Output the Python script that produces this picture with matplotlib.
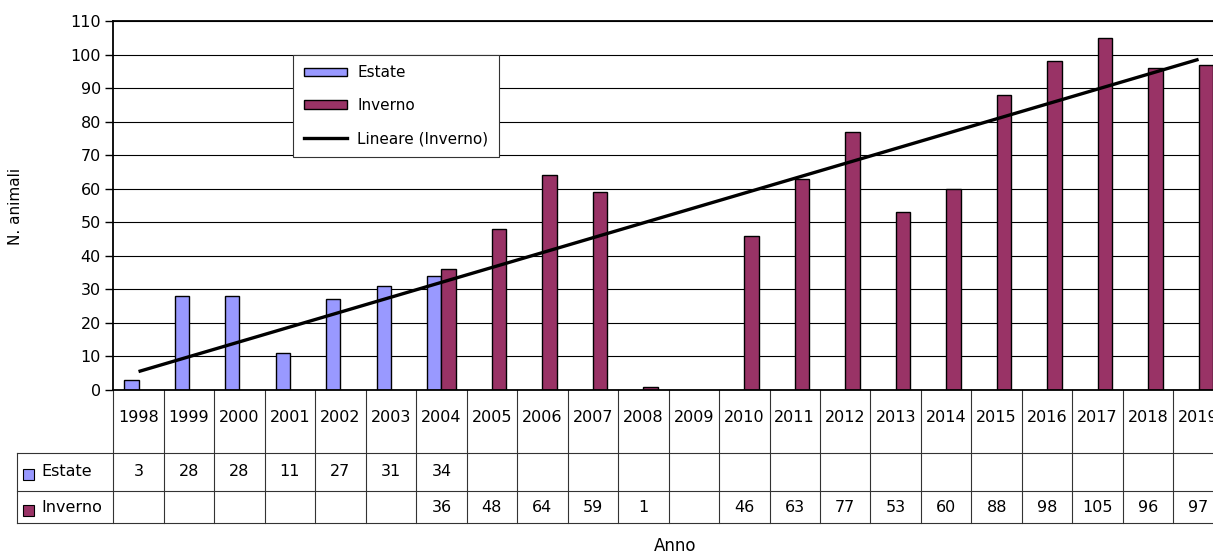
import numpy as np
import matplotlib
matplotlib.use("Agg")
import matplotlib.pyplot as plt
from matplotlib import transforms
from matplotlib.patches import Patch, Rectangle
from matplotlib.lines import Line2D

# data
anni = ['1998', '1999', '2000', '2001', '2002', '2003', '2004', '2005', '2006', '2007', '2008',
        '2009', '2010', '2011', '2012', '2013', '2014', '2015', '2016', '2017', '2018', '2019']
estate = [3, 28, 28, 11, 27, 31, 34, None, None, None, None,
          None, None, None, None, None, None, None, None, None, None, None]
inverno = [None, None, None, None, None, None, 36, 48, 64, 59, 1,
           None, 46, 63, 77, 53, 60, 88, 98, 105, 96, 97]

c_est = '#9999FF'
c_inv = '#993366'

W, H = 1213, 555
fig = plt.figure(figsize=(W / 100, H / 100), dpi=100)
plt.rcParams['font.family'] = 'DejaVu Sans'

# plot area (runs past the right edge, like the cropped original)
x0, x1 = 113.3, 1223.8
y_top, y_bot = 21, 390
ax = fig.add_axes([x0 / W, (H - y_bot) / H, (x1 - x0) / W, (y_bot - y_top) / H])

n = len(anni)
x = np.arange(n)
bw = 1 / 3.5

xe = [i for i in x if estate[i] is not None]
ye = [estate[i] for i in xe]
xi = [i for i in x if inverno[i] is not None]
yi = [inverno[i] for i in xi]

ax.bar(np.array(xe) - bw / 2, ye, width=bw, color=c_est, edgecolor='black', linewidth=1.0, zorder=2)
ax.bar(np.array(xi) + bw / 2, yi, width=bw, color=c_inv, edgecolor='black', linewidth=1.0, zorder=2)

# linear trend on Inverno (Excel style: over category index)
fit = np.polyfit(xi, yi, 1)
ax.plot([0, n - 1], np.polyval(fit, [0, n - 1]), color='black', lw=2.4, zorder=3,
        solid_capstyle='butt')

ax.set_xlim(-0.5, n - 0.5)
ax.set_ylim(0, 110)
ax.set_yticks(range(0, 111, 10))
ax.set_xticks([])
ax.yaxis.grid(True, color='black', lw=0.8)
ax.set_axisbelow(True)
ax.tick_params(axis='y', length=6, width=1, pad=3, labelsize=11.5)
for s in ['left', 'bottom', 'top']:
    ax.spines[s].set_color('black')
    ax.spines[s].set_linewidth(1.3)
ax.spines['right'].set_visible(False)

# legend
handles = [Patch(facecolor=c_est, edgecolor='black', lw=1.0),
           Patch(facecolor=c_inv, edgecolor='black', lw=1.0),
           Line2D([], [], color='black', lw=2.4)]
labels = ['Estate', 'Inverno', 'Lineare (Inverno)']
leg = ax.legend(handles, labels, loc='upper left', bbox_to_anchor=(293.3 / W, 1 - 54.7 / H),
                bbox_transform=fig.transFigure, borderaxespad=0, fancybox=False,
                framealpha=1, edgecolor='#333333', fontsize=11, handlelength=2.8,
                handleheight=0.5, handletextpad=0.7, labelspacing=1.17, borderpad=0.7)
leg.get_frame().set_linewidth(0.8)
leg.set_zorder(5)

# data table under the chart (pixel y measured from top)
pix = transforms.Affine2D().scale(1 / W, -1 / H).translate(0, 1) + fig.transFigure
blend = transforms.blended_transform_factory(ax.transData, pix)
r_cat, r_est, r_inv = 453, 491, 523
tab_left = 17.3
lc = '#333333'

for b in np.arange(n + 1) - 0.5:
    ax.add_line(Line2D([b, b], [y_bot, r_inv], transform=blend, color=lc, lw=0.8, clip_on=False))
for yy in [r_cat, r_est, r_inv]:
    fig.add_artist(Line2D([tab_left, W + 20], [yy, yy], transform=pix, color=lc, lw=0.8))
fig.add_artist(Line2D([tab_left, tab_left], [r_cat, r_inv], transform=pix, color=lc, lw=0.8))

for i in range(n):
    ax.text(i, 418, anni[i], transform=blend, ha='center', va='center', fontsize=11.5, clip_on=False)
    if estate[i] is not None:
        ax.text(i, 472, str(estate[i]), transform=blend, ha='center', va='center',
                fontsize=11.5, clip_on=False)
    if inverno[i] is not None:
        ax.text(i, 508, str(inverno[i]), transform=blend, ha='center', va='center',
                fontsize=11.5, clip_on=False)

fig.add_artist(Rectangle((23, 468.5), 11, 11, transform=pix, facecolor=c_est, edgecolor='black', lw=0.8))
fig.add_artist(Rectangle((23, 504.5), 11, 11, transform=pix, facecolor=c_inv, edgecolor='black', lw=0.8))
fig.text(41 / W, 1 - 472 / H, 'Estate', ha='left', va='center', fontsize=11.5)
fig.text(41 / W, 1 - 508 / H, 'Inverno', ha='left', va='center', fontsize=11.5)

# axis titles
fig.text(16 / W, 1 - 206 / H, 'N. animali', rotation=90, ha='center', va='center', fontsize=11)
fig.text(675 / W, 1 - 546 / H, 'Anno', ha='center', va='center', fontsize=12)

fig.savefig('out.png', dpi=100)
